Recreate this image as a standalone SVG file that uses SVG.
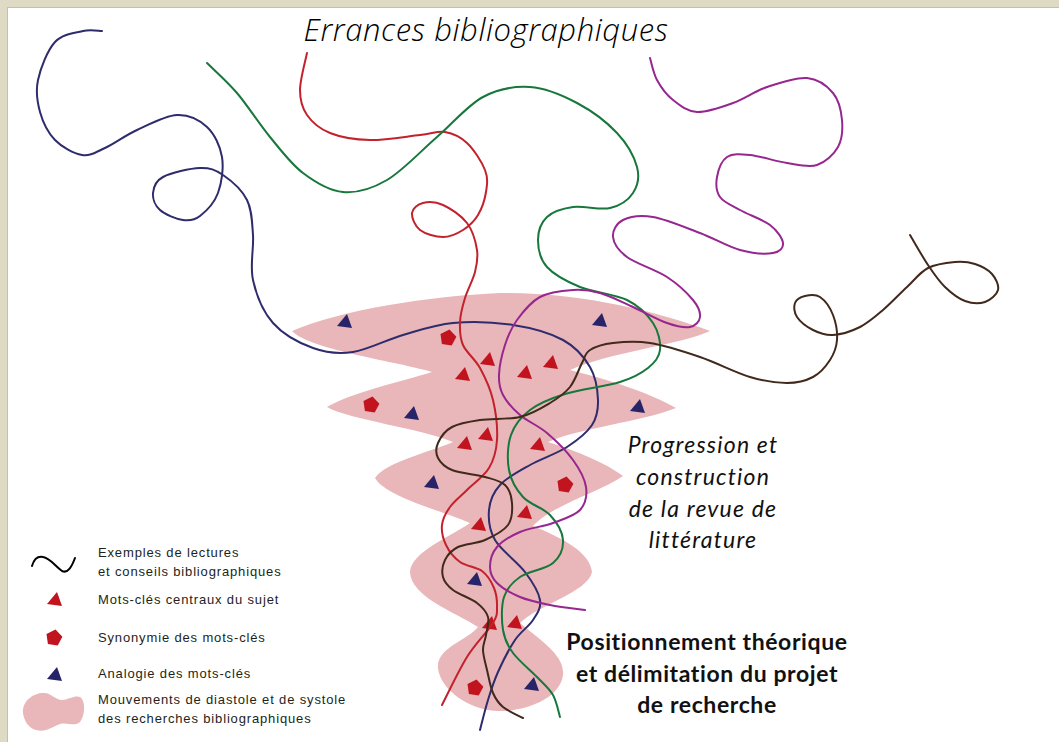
<svg xmlns="http://www.w3.org/2000/svg" width="1059" height="742" viewBox="0 0 1059 742">
<style>
.ln{fill:none;stroke-width:2;stroke-linecap:round;stroke-linejoin:round}
.navy{stroke:#2e2c6c}.red{stroke:#c3222c}.green{stroke:#17773c}.purple{stroke:#95278f}.brown{stroke:#41291b}
.mr{fill:#c1141f}.mb{fill:#27246a}
.pink{fill:#e9b6b9}
.leg{font-family:"Liberation Sans",Arial,sans-serif;font-size:13px;letter-spacing:0.85px;fill:#231f20}
.it{font-family:Lato,"Open Sans",sans-serif;font-style:italic;font-size:23px;letter-spacing:1.2px;fill:#111;text-anchor:middle}
.bd{font-family:Lato,"Open Sans",sans-serif;font-weight:bold;font-size:23px;letter-spacing:0.6px;fill:#111;text-anchor:middle}
.title{font-family:"Open Sans","DejaVu Sans",sans-serif;font-style:italic;font-weight:300;font-size:31px;letter-spacing:0.6px;fill:#000;text-anchor:middle}
</style>
<defs>
<path id="tri" d="M2,-8 L7,6 L-8,4 Z"/>
<path id="pent" d="M1.5,-8.4 L8.4,-1.2 L3.7,7.6 L-6.1,5.9 L-7.5,-4 Z"/>
</defs>
<rect width="1059" height="742" fill="#dedac4"/>
<rect x="7.5" y="7.5" width="1060" height="740" fill="#ffffff" stroke="#c6c1a6" stroke-width="1"/>

<g id="funnel">
<path class="pink" d="M292,331 C340,310 430,296 500,293 C580,292 660,312 710,331 C680,345 610,352 570,370 C610,380 650,393 676,408 C640,422 580,428 548,442 C580,452 605,463 623,476 C600,492 552,505 533,526 C562,538 590,552 592,572 C588,592 538,605 520,623 C540,640 565,655 563,675 C560,700 522,712 497,711 C470,710 440,690 438,668 C436,648 468,640 478,627 C455,612 411,597 410,572 C411,552 450,537 470,523 C440,510 386,497 375,478 C386,462 430,452 453,442 C420,428 350,420 327,407 C350,393 400,382 432,372 C400,362 310,350 292,331 Z"/>
</g>

<g id="markers">
<use href="#tri" class="mb" x="345" y="322"/>
<use href="#tri" class="mb" x="600" y="321"/>
<use href="#tri" class="mb" x="412" y="414"/>
<use href="#tri" class="mb" x="638" y="407"/>
<use href="#tri" class="mb" x="432" y="483"/>
<use href="#tri" class="mb" x="475" y="580"/>
<use href="#tri" class="mb" x="532" y="685"/>
<use href="#tri" class="mr" x="488" y="360"/>
<use href="#tri" class="mr" x="463" y="375"/>
<use href="#tri" class="mr" x="525" y="373"/>
<use href="#tri" class="mr" x="551" y="363"/>
<use href="#tri" class="mr" x="486" y="435"/>
<use href="#tri" class="mr" x="465" y="444"/>
<use href="#tri" class="mr" x="538" y="445"/>
<use href="#tri" class="mr" x="479" y="525"/>
<use href="#tri" class="mr" x="525" y="513"/>
<use href="#tri" class="mr" x="490" y="624"/>
<use href="#tri" class="mr" x="515" y="623"/>
<use href="#pent" class="mr" x="448" y="338"/>
<use href="#pent" class="mr" x="371" y="405"/>
<use href="#pent" class="mr" x="565" y="485"/>
<use href="#pent" class="mr" x="475" y="688"/>
</g>

<g id="connectors">
<path id="navy-path" class="ln navy" d="M102,31 C98.8,31 90.8,29.2 83,31 S62.5,33.8 55,42 S40.5,68.3 38,80 S37.2,102 40,112 S48,132.8 55,140 S73.7,153.7 82,155 S95.8,152.2 105,148 S125,135.5 137,130 S165.3,115.5 177,115 S199.5,120 207,127 S220.2,146 222,157 S221.7,183.2 218,193 S205.8,211.5 200,216 S189.7,221 183,220 S165,214.5 160,210 S152.5,198.5 153,193 S155.2,181.2 163,177 S190,168.3 200,168 S215.2,169.7 223,175 S242,190 247,200 S252,221.7 253,235 S249.7,265.3 253,280 S263,311.7 273,323 S299.7,343.2 313,348 S338,354.2 353,352 S386.3,339.8 403,335 S434.7,324.7 453,323 S494.7,322.2 513,325 S550.2,333 563,340 S584.2,357 590,367 S597.7,390.3 598,400 S597.2,417.2 592,425 S577.3,440.3 567,447 S541.2,458.7 530,465 S506.8,477.5 500,485 S489.8,500.8 489,510 S489,529.7 495,540 S517.5,562 525,572 S538.7,592 540,600 S537.2,613.3 533,620 S520.8,631.3 515,640 S502.5,662 498,672 S491,690.3 488,700 S481.3,725 480,730"/>
<path id="red-path" class="ln red" d="M307,53 C305.8,59.2 300,79.7 300,90 S302,107.8 307,115 S319.5,128.8 330,133 S355,139.7 370,140 S407.5,136.3 420,135 S437.2,130.7 445,132 S460.3,136.7 467,143 S481.8,161.8 485,170 S487.2,184.5 486,192 S481.8,208.7 478,215 S468.8,226.3 463,230 S450.2,237 443,237 S425.2,234 420,230 S411.5,217.5 412,213 S417.8,204.3 423,203 S435.7,201.7 443,205 S461.3,215.5 467,223 S475.7,241.8 477,250 S477,264 475,272 S467.5,289.7 465,298 S460.3,314.2 460,322 S459.7,337.3 463,345 S475,358.8 480,368 S490.2,388 493,400 S497.7,428.7 497,440 S494,459.7 489,468 S473.5,483.5 467,490 S454.2,501.2 450,507 S442.7,518.7 442,525 S443,538.8 446,545 S454,557.7 460,562 S476.3,566.7 482,571 S491.5,582 494,588 S497.2,601.2 497,607 S498,614.7 493,623 S475.5,643.3 467,657 S446.2,697 442,705"/>
<path id="green-path" class="ln green" d="M207,63 C212,68 226.5,80.7 237,93 S259,123.7 270,137 S290.8,163.8 303,173 S329,190.8 343,192 S371.3,189.2 387,180 S421,150.8 437,137 S467.5,105.3 483,97 S514.3,86 530,87 S562.5,95.3 577,103 S607,122.3 617,133 S634.3,157 637,167 S637.5,186.2 633,193 S620,205.7 610,208 S583.5,205.5 573,207 S552.8,211.5 547,217 S538,231.7 538,240 S540,259.2 547,267 S566.7,281.5 580,287 S614.8,294 627,300 S647.5,314.7 653,323 S660.8,342.5 660,350 S654.7,362.7 648,368 S633.8,377.7 620,382 S580,389.3 565,394 S539,403.2 530,410 S514.5,425 511,435 S507,459.7 509,470 S516.2,489.5 523,497 S543.3,507.8 550,515 S562.5,532 563,540 S560.2,556.8 553,563 S528.2,571.3 520,577 S506.8,588.2 504,597 S501.5,620.7 503,630 S507.3,645.2 513,653 S530.3,670 537,677 S549.2,688.3 553,695 S558.8,713.3 560,717"/>
<path id="purple-path" class="ln purple" d="M650,58 C651.2,61.7 653.2,73 657,80 S666.3,94.7 673,100 S687,111.5 697,112 S721.3,107.2 733,103 S754.7,91.2 767,87 S796,77 807,78 S827.2,86 833,93 S841.2,111 842,120 S842.2,139.5 838,147 S825.5,162.3 817,165 S798.2,164.7 787,163 S760,156 750,155 S732.5,153.3 727,157 S718.2,170.3 717,177 S716.2,191.5 720,197 S731.7,205.3 740,210 S762.8,219.5 770,225 S782.5,238.3 783,243 S780.2,251.8 773,253 S752.2,253.3 740,250 S714.5,238.5 700,233 S665.8,219.2 653,217 S629.7,216.7 623,220 S612.3,230.8 613,237 S618,250.3 627,257 S656,269.8 667,277 S687.5,293.3 693,300 S700.5,312.5 700,317 S695.5,326 690,327 S676.5,326.3 667,323 S644.2,312 633,307 S610,295.8 600,293 S583,289.3 573,290 S549.3,292 540,297 S522.8,312 517,320 S508,335.8 505,345 S499.3,366.7 499,375 S499.5,388.3 503,395 S512.7,408.7 520,415 S538.2,425.5 547,433 S566.5,451 573,460 S584.8,478.7 586,487 S585.5,504 580,510 S563,519.3 553,523 S529.3,528 520,532 S502,541.2 497,547 S490,561 490,567 S492,578 497,583 S511.2,593.3 520,597 S539.2,602.8 550,605 S579.2,609.2 585,610"/>
<path id="brown-path" class="ln brown" d="M910,235 C913,240 922.2,256.3 928,265 S938.8,281 945,287 S958.3,298.5 965,301 S979.5,303.8 985,302 S996.8,294.7 998,290 S995.8,278.3 992,274 S981.2,266 975,264 S962.8,261.3 955,262 S936,263.8 928,268 S914.5,280 907,287 S890.8,303.3 883,310 S868.3,322.8 860,327 S840.8,334.5 833,335 S819,333 813,330 S800,321.5 797,317 S793.7,306.5 795,303 S800.8,297 805,296 S815.3,293.8 820,297 S830.2,307.8 833,315 S837.5,332.5 837,340 S834,353.8 830,360 S820.2,373.2 813,377 S797.5,383 787,383 S764.5,381.3 750,377 S716.7,362.7 700,357 S664.5,345.3 650,343 S623,341.8 613,343 S595.2,346.7 590,350 S585.3,356.8 582,363 S575.3,380.3 570,387 S558.3,398 550,403 S531.7,414.2 520,417 S491.3,418.3 480,420 S459,423.2 452,427 S440.3,437.8 438,443 S435.7,453.5 438,458 S444.2,466.8 452,470 S476.2,474.5 485,477 S500.5,480.7 505,485 S511.5,496.3 512,503 S512.5,518.8 508,525 S493.3,536.3 485,540 S464.7,543.7 458,547 S447.5,555 445,560 S441.7,572 443,577 S447.3,585.7 453,590 S471.2,598.5 477,603 S486.5,611.7 488,617 S486.8,629.5 486,635 S482.8,644.2 483,650 S485.3,662.8 487,670 S490.3,686.8 493,693 S498,702.8 503,707 S519.7,716.2 523,718"/>
</g>

<g id="title">
<text class="title" x="486" y="41">Errances bibliographiques</text>
</g>

<g id="label-progression">
<text class="it" x="703" y="453">Progression et</text>
<text class="it" x="703" y="485">construction</text>
<text class="it" x="703" y="517">de la revue de</text>
<text class="it" x="703" y="548">littérature</text>
</g>

<g id="label-positionnement">
<text class="bd" x="707" y="650">Positionnement théorique</text>
<text class="bd" x="707" y="682">et délimitation du projet</text>
<text class="bd" x="707" y="713">de recherche</text>
</g>

<g id="legend">
<g id="legend-lectures">
<path d="M32,566 C34,559 38,556 43,557 C50,558 55,566 62,571 C68,574 72,566 75,558" fill="none" stroke="#000" stroke-width="2" stroke-linecap="round"/>
<text class="leg" x="98" y="557">Exemples de lectures</text>
<text class="leg" x="98" y="576">et conseils bibliographiques</text>
</g>
<g id="legend-centraux">
<use href="#tri" class="mr" x="55" y="600"/>
<text class="leg" x="98" y="604">Mots-clés centraux du sujet</text>
</g>
<g id="legend-synonymie">
<use href="#pent" class="mr" x="54" y="638"/>
<text class="leg" x="98" y="642">Synonymie des mots-clés</text>
</g>
<g id="legend-analogie">
<use href="#tri" class="mb" x="55" y="675"/>
<text class="leg" x="98" y="678">Analogie des mots-clés</text>
</g>
<g id="legend-mouvements">
<path class="pink" d="M23,713 C22,700 35,692 45,693 C52,694 56,700 62,700 C70,699 75,695 80,697 C86,701 85,716 80,722 C75,727 68,722 60,724 C52,727 45,733 36,730 C28,728 24,720 23,713 Z"/>
<text class="leg" x="98" y="704">Mouvements de diastole et de systole</text>
<text class="leg" x="98" y="723">des recherches bibliographiques</text>
</g>
</g>
</svg>
